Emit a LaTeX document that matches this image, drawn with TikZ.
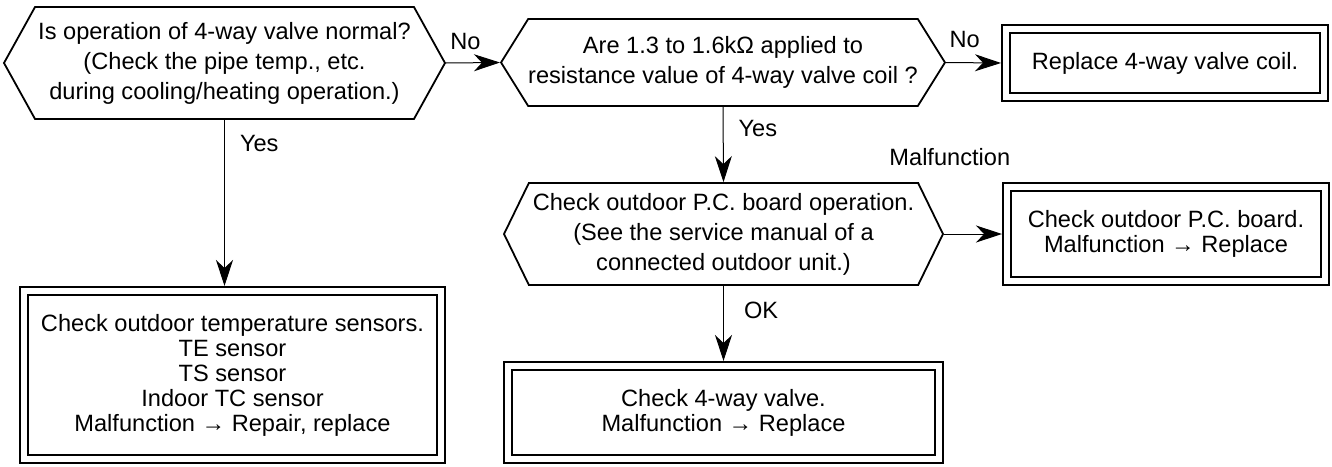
\documentclass[tikz,border=0pt]{standalone}
\usepackage{fontspec}
\setmainfont{Liberation Sans}
\usetikzlibrary{arrows.meta, shapes.symbols, positioning}

\begin{document}
\begin{tikzpicture}[x=0.5pt, y=-0.5pt,
  query/.style={signal, signal to=west and east, draw, line width=0.9pt,
                align=center, inner sep=0pt,
                font=\fontsize{11.8}{15}\selectfont},
  result/.style={rectangle, draw, line width=1pt, double, double distance=3pt,
                 outer sep=2.5pt, align=center, inner sep=0pt,
                 font=\fontsize{11.8}{12.5}\selectfont},
  arrow/.style={-{Stealth[length=13pt, width=8.5pt, inset=4pt]}, line width=0.5pt},
  lbl/.style={inner sep=0pt, font=\fontsize{11.8}{14}\selectfont},
]
\useasboundingbox (0,0) rectangle (1332,466);
\node[query, signal pointer angle=122, minimum width=220.5pt, minimum height=56pt]
  (valve) at (224.5,63) {Is operation of 4-way valve normal?\\(Check the pipe temp., etc.\\during cooling/heating operation.)};
\node[query, signal pointer angle=116, minimum width=220pt, minimum height=43.5pt]
  (coilres) at (723,62.5) {Are 1.3 to 1.6kΩ applied to\\resistance value of 4-way valve coil ?};
\node[query, signal pointer angle=128, minimum width=219.5pt, minimum height=51pt]
  (pcbop) at (723.5,234) {Check outdoor P.C. board operation.\\(See the service manual of a\\connected outdoor unit.)};
\node[result, minimum width=159pt, minimum height=34pt]
  (coil) at (1165,63) {Replace 4-way valve coil.};
\node[result, minimum width=159pt, minimum height=47pt]
  (pcb) at (1166,234) {Check outdoor P.C. board.\\Malfunction → Replace};
\node[result, minimum width=208.5pt, minimum height=84pt]
  (sensors) at (232.5,375) {Check outdoor temperature sensors.\\TE sensor\\TS sensor\\Indoor TC sensor\\Malfunction → Repair, replace};
\node[result, minimum width=215.5pt, minimum height=46.5pt]
  (valvechk) at (723.5,412.5) {Check 4-way valve.\\Malfunction → Replace};
\draw[arrow] (valve.east) -- (coilres.west)
  node[lbl, pos=0.36, above=6.5pt] {No};
\draw[arrow] (coilres.east) -- (coil.west)
  node[lbl, pos=0.34, above=7pt] {No};
\draw[arrow] (valve.south) -- (valve.south |- sensors.north)
  node[lbl, pos=0.14, right=7.5pt] {Yes};
\draw[arrow] (coilres.south) -- (pcbop.north)
  node[lbl, pos=0.29, right=7.5pt] {Yes};
\draw[arrow] (pcbop.east) -- (pcb.west)
  node[lbl, pos=0.1, above=34pt] {Malfunction};
\draw[arrow] (pcbop.south) -- (valvechk.north)
  node[lbl, pos=0.32, right=10pt] {OK};
\end{tikzpicture}
\end{document}
